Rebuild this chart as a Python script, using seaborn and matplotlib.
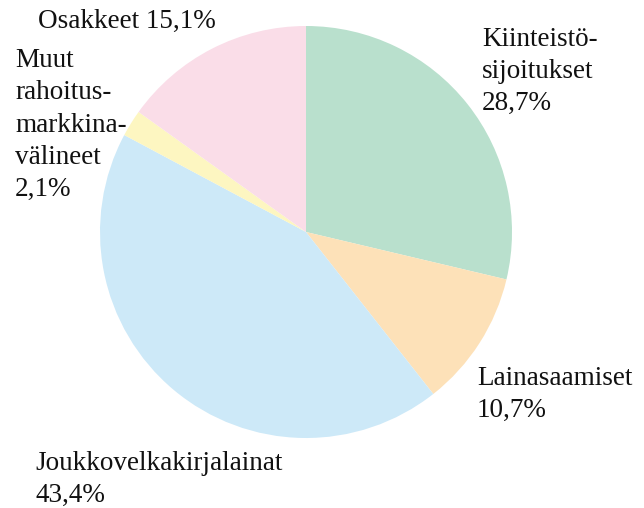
import matplotlib
matplotlib.use("Agg")
import matplotlib.pyplot as plt
import seaborn as sns

luokat = ["Kiinteistö-\nsijoitukset", "Lainasaamiset", "Joukkovelkakirjalainat",
          "Muut\nrahoitus-\nmarkkina-\nvälineet", "Osakkeet"]
osuudet = [28.7, 10.7, 43.4, 2.1, 15.1]
varit = ["#b9e0cd", "#fde1b8", "#cde9f8", "#fdf6c1", "#fadde8"]

sns.set_theme(style="white")
plt.rcParams["font.family"] = ["Liberation Serif", "DejaVu Serif"]

fig = plt.figure(figsize=(6.44, 5.08), dpi=100)
ax = fig.add_axes([100 / 644, 1 - 438 / 508, 412 / 644, 412 / 508])
ax.pie(osuudet, colors=sns.color_palette(varit), startangle=90, counterclock=False,
       radius=1, wedgeprops=dict(linewidth=0))
ax.set_xlim(-1, 1)
ax.set_ylim(-1, 1)
ax.set_aspect("equal")
ax.axis("off")


def fmt(v):
    return f"{v:.1f}".replace(".", ",") + "%"


# label positions in pixels (left, baseline of last line)
paikat = [(482, 110), (477, 417), (35, 502), (15, 196), (38, 28)]
for nimi, v, (x, y) in zip(luokat, osuudet, paikat):
    if nimi == "Osakkeet":
        teksti = f"{nimi} {fmt(v)}"
    else:
        teksti = f"{nimi}\n{fmt(v)}"
    fig.text(x / 644, 1 - y / 508, teksti, fontsize=19.5, ha="left", va="baseline",
             linespacing=1.38, color="#111111")

fig.savefig("out.png", dpi=100)
